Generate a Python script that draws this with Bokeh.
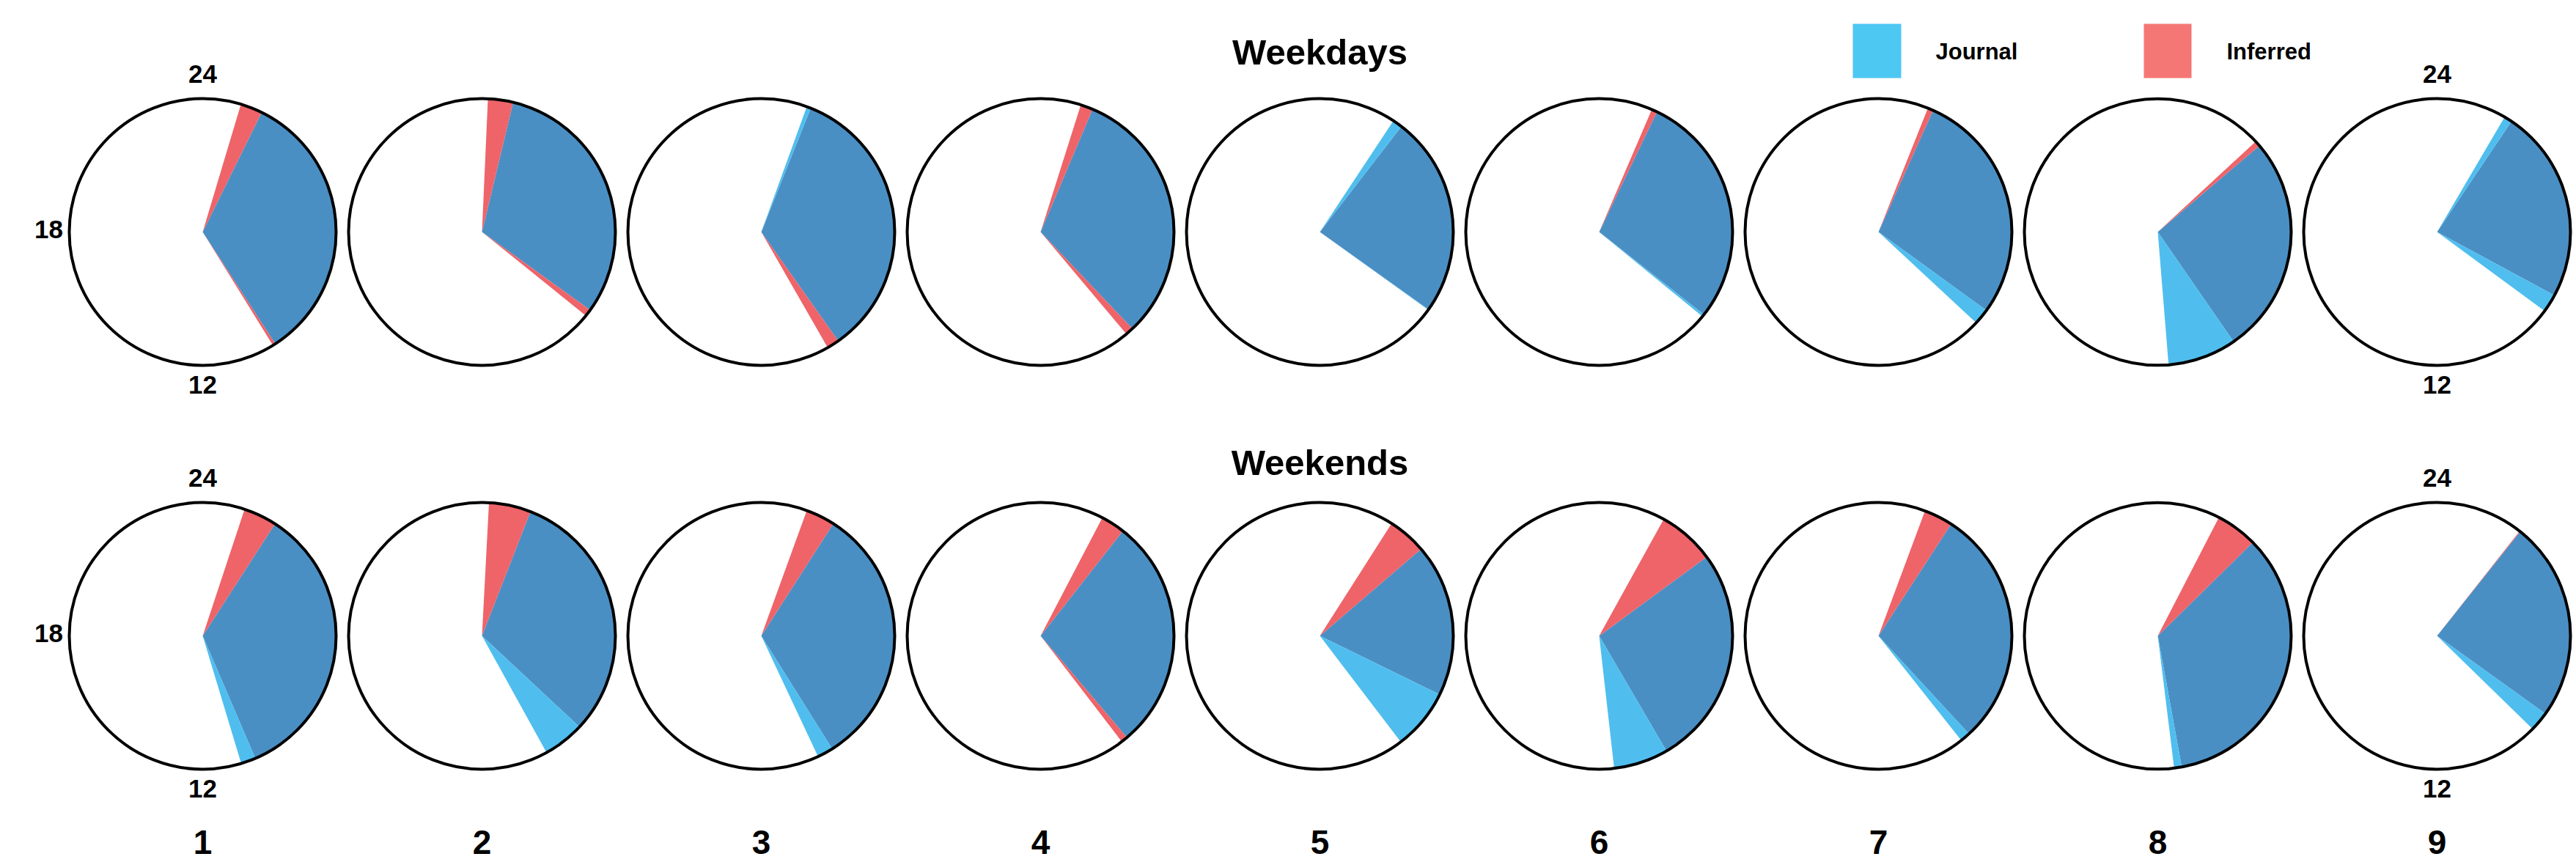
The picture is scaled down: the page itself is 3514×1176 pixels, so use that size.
import numpy as np
from bokeh.plotting import figure
from bokeh.models import ColumnDataSource, Range1d
from bokeh.core.properties import value
from bokeh.embed import file_html
from bokeh.resources import INLINE

# ---------------- data (hours on a 24 h clock, 24 at top, clockwise) ----------------
columns = ["1", "2", "3", "4", "5", "6", "7", "8", "9"]
row_titles = ["Weekdays", "Weekends"]
series_names = ["Journal", "Inferred"]
clock_labels = ["24", "12", "18"]

weekday_journal_start = [1.75, 0.90, 1.33, 1.53, 2.23, 1.71, 1.61, 3.31, 2.03]
weekday_journal_end = [9.80, 8.39, 9.65, 9.10, 8.38, 8.62, 8.86, 11.69, 8.42]
weekday_inferred_start = [1.11, 0.17, 1.45, 1.17, 2.51, 1.55, 1.45, 3.15, 2.26]
weekday_inferred_end = [9.88, 8.59, 10.01, 9.33, 8.37, 8.55, 8.40, 9.69, 7.89]

weekend_journal_start = [2.19, 1.42, 2.18, 2.54, 3.29, 3.58, 2.20, 3.03, 2.57]
weekend_journal_end = [10.88, 10.07, 10.32, 9.31, 9.51, 11.57, 9.44, 11.53, 8.95]
weekend_inferred_start = [1.22, 0.20, 1.33, 1.84, 2.17, 1.93, 1.36, 1.82, 2.55]
weekend_inferred_end = [10.45, 8.87, 9.86, 9.50, 7.74, 9.98, 9.15, 11.31, 8.38]

# ---------------- styling / layout ----------------
JOURNAL_C = "#4FBEEE"
INFERRED_C = "#EE6469"
BOTH_C = "#4A8FC4"
LEG_JOURNAL_C = "#4DC8F3"
LEG_INFERRED_C = "#F47775"

W, H = 3514, 1176
FONT = value("Liberation Sans")


def fx(sx):
    return sx


def fy(sy):
    return H - sy


R = 182
col_x = [fx(276 + 381 * i) for i in range(len(columns))]
row_y = [fy(316), fy(867)]

p = figure(width=W, height=H, output_backend="svg", toolbar_location=None,
           x_range=Range1d(0, W), y_range=Range1d(0, H),
           x_axis_type=None, y_axis_type=None, min_border=0)
p.outline_line_color = None
p.grid.visible = False
p.background_fill_color = "white"


def arc_patch(cx, cy, h0, h1, n=120):
    th = np.linspace(h0, h1, n) / 24.0 * 2 * np.pi
    xs = [cx] + list(cx + R * np.sin(th)) + [cx]
    ys = [cy] + list(cy + R * np.cos(th)) + [cy]
    return xs, ys


pxs, pys, pcols = [], [], []
rows = [
    (weekday_journal_start, weekday_journal_end, weekday_inferred_start, weekday_inferred_end),
    (weekend_journal_start, weekend_journal_end, weekend_inferred_start, weekend_inferred_end),
]
for r, (js, je, is_, ie) in enumerate(rows):
    cy = row_y[r]
    for c in range(len(columns)):
        cx = col_x[c]
        j0, j1, i0, i1 = js[c], je[c], is_[c], ie[c]
        segs = []
        o0, o1 = max(j0, i0), min(j1, i1)
        if o1 > o0:
            segs.append((o0, o1, BOTH_C))
        if i0 < j0:
            segs.append((i0, min(j0, i1), INFERRED_C))
        if j0 < i0:
            segs.append((j0, min(i0, j1), JOURNAL_C))
        if i1 > j1:
            segs.append((max(j1, i0), i1, INFERRED_C))
        if j1 > i1:
            segs.append((max(i1, j0), j1, JOURNAL_C))
        for a, b, col in segs:
            xs, ys = arc_patch(cx, cy, a, b)
            pxs.append(xs)
            pys.append(ys)
            pcols.append(col)

cxs = [x for _ in row_y for x in col_x]
cys = [y for y in row_y for _ in col_x]
p.circle(cxs, cys, radius=R, fill_color="white", line_color=None)
p.patches(source=ColumnDataSource(dict(xs=pxs, ys=pys, c=pcols)), xs="xs", ys="ys",
          fill_color="c", line_color=None)
p.circle(cxs, cys, radius=R, fill_color=None, line_color="black", line_width=4)

# clock labels for the first and last column of each row
lx, ly, lt = [], [], []
for cy in row_y:
    for c in (0, len(columns) - 1):
        lx += [col_x[c], col_x[c]]
        ly += [cy + 216, cy - 208]
        lt += [clock_labels[0], clock_labels[1]]
    lx.append(col_x[0] - 210)
    ly.append(cy + 4)
    lt.append(clock_labels[2])
p.text(lx, ly, text=lt, text_font=FONT, text_font_style="bold", text_font_size="35px",
       text_align="center", text_baseline="middle", text_color="black")

# column labels
p.text(col_x, [fy(1148)] * len(columns), text=columns, text_font=FONT, text_font_style="bold",
       text_font_size="46px", text_align="center", text_baseline="middle", text_color="black")

# row titles
p.text([fx(1800), fx(1800)], [fy(70), fy(630)], text=row_titles, text_font=FONT,
       text_font_style="bold", text_font_size="49px", text_align="center",
       text_baseline="middle", text_color="black")

# legend
p.rect([fx(2560), fx(2956.5)], [fy(69), fy(69)], width=[66, 65], height=74,
       fill_color=[LEG_JOURNAL_C, LEG_INFERRED_C], line_color=None)
p.text([fx(2640), fx(3037)], [fy(70), fy(70)], text=series_names, text_font=FONT,
       text_font_style="bold", text_font_size="31px", text_align="left",
       text_baseline="middle", text_color="black")

open("out.html", "w").write(file_html(p, INLINE))
